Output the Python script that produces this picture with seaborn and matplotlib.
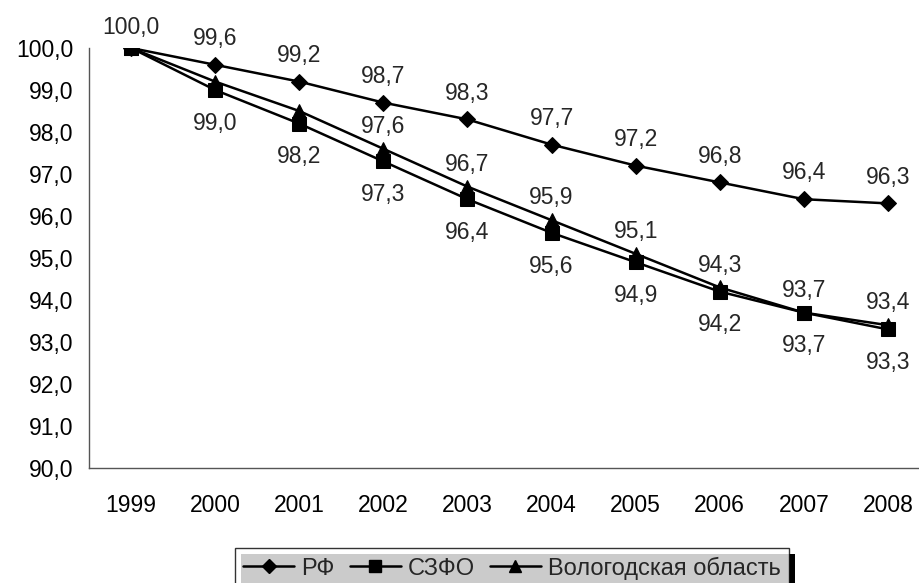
import matplotlib
matplotlib.use("Agg")
import matplotlib.pyplot as plt
import seaborn as sns
import pandas as pd
from matplotlib.lines import Line2D
from matplotlib.patches import Rectangle

years = ["1999", "2000", "2001", "2002", "2003", "2004", "2005", "2006", "2007", "2008"]
rf = [100.0, 99.6, 99.2, 98.7, 98.3, 97.7, 97.2, 96.8, 96.4, 96.3]
szfo = [100.0, 99.0, 98.2, 97.3, 96.4, 95.6, 94.9, 94.2, 93.7, 93.3]
vologda = [100.0, 99.2, 98.5, 97.6, 96.7, 95.9, 95.1, 94.3, 93.7, 93.4]
series_names = ["РФ", "СЗФО", "Вологодская область"]
y_ticks = [90, 91, 92, 93, 94, 95, 96, 97, 98, 99, 100]

sns.set_style("white")
plt.rcParams["font.family"] = ["Liberation Sans", "DejaVu Sans"]
FS = 16.5

rows = []
for name, vals in zip(series_names, [rf, szfo, vologda]):
    for i, (yr, v) in enumerate(zip(years, vals)):
        rows.append({"pos": i, "year": yr, "value": v, "series": name})
df = pd.DataFrame(rows)

fig = plt.figure(figsize=(9.19, 5.83), dpi=100)
W, H = 919, 583
left_px, right_px, bottom_px, top_px = 89, 930, 468, 48
ax = fig.add_axes([left_px / W, 1 - bottom_px / H, (right_px - left_px) / W, (bottom_px - top_px) / H])

markers = {"РФ": "D", "СЗФО": "s", "Вологодская область": "^"}
sizes = {"РФ": 8, "СЗФО": 10, "Вологодская область": 10}
order = ["Вологодская область", "СЗФО", "РФ"]
for name in order:
    sub = df[df["series"] == name]
    sns.lineplot(data=sub, x="pos", y="value", ax=ax, color="black", lw=1.8,
                 marker=markers[name], markersize=sizes[name], markeredgecolor="black",
                 markerfacecolor="black", legend=False, zorder=3)

ax.set_xlim(-0.5, 9.5)
ax.set_ylim(90, 100)
ax.set_xlabel("")
ax.set_ylabel("")

ax.set_yticks(y_ticks)
ax.set_yticklabels([f"{v:.1f}".replace(".", ",") for v in y_ticks], fontsize=FS)
ax.set_xticks(range(len(years)))
ax.set_xticklabels(years, fontsize=FS)
ax.set_xticks([i - 0.5 for i in range(len(years))], minor=True)
ax.tick_params(axis="x", which="major", length=0, pad=19)
ax.tick_params(axis="x", which="minor", length=5, width=1, color="#555555", direction="out")
ax.tick_params(axis="y", which="major", length=5, width=1, color="#555555", direction="out", pad=6)
ax.tick_params(axis="both", labelcolor="black")

for s in ["top", "right"]:
    ax.spines[s].set_visible(False)
for s in ["left", "bottom"]:
    ax.spines[s].set_color("#555555")
    ax.spines[s].set_linewidth(1.0)

fmt = lambda v: f"{v:.1f}".replace(".", ",")
ax.annotate(fmt(rf[0]), (0, rf[0]), xytext=(0, 15), textcoords="offset points",
            ha="center", va="center", fontsize=FS)
for i in range(1, len(years)):
    ax.annotate(fmt(rf[i]), (i, rf[i]), xytext=(0, 19), textcoords="offset points",
                ha="center", va="center", fontsize=FS)
    ax.annotate(fmt(szfo[i]), (i, szfo[i]), xytext=(0, -24), textcoords="offset points",
                ha="center", va="center", fontsize=FS)
for i in range(3, len(years)):
    ax.annotate(fmt(vologda[i]), (i, vologda[i]), xytext=(0, 16), textcoords="offset points",
                ha="center", va="center", fontsize=FS)

handles = [Line2D([], [], color="black", lw=1.8, marker=markers[n], markersize=sizes[n] - 1,
                  markerfacecolor="black") for n in series_names]
leg = fig.legend(handles, series_names, loc="center", bbox_to_anchor=(512 / W, 1 - 568 / H),
                 ncol=3, fontsize=17, frameon=True, fancybox=False, shadow=False,
                 handlelength=2.15, handletextpad=0.3, columnspacing=0.64, borderpad=0.35,
                 borderaxespad=0)
leg.get_frame().set_edgecolor("black")
leg.get_frame().set_linewidth(1.0)
leg.set_zorder(6)

fig.canvas.draw()
bb = leg.get_window_extent()
shadow = Rectangle(((bb.x0 + 6) / W, (bb.y0 - 6) / H), bb.width / W, bb.height / H,
                   transform=fig.transFigure, facecolor="black", edgecolor="none", zorder=5)
fig.add_artist(shadow)

fig.savefig("out.png", dpi=100)
